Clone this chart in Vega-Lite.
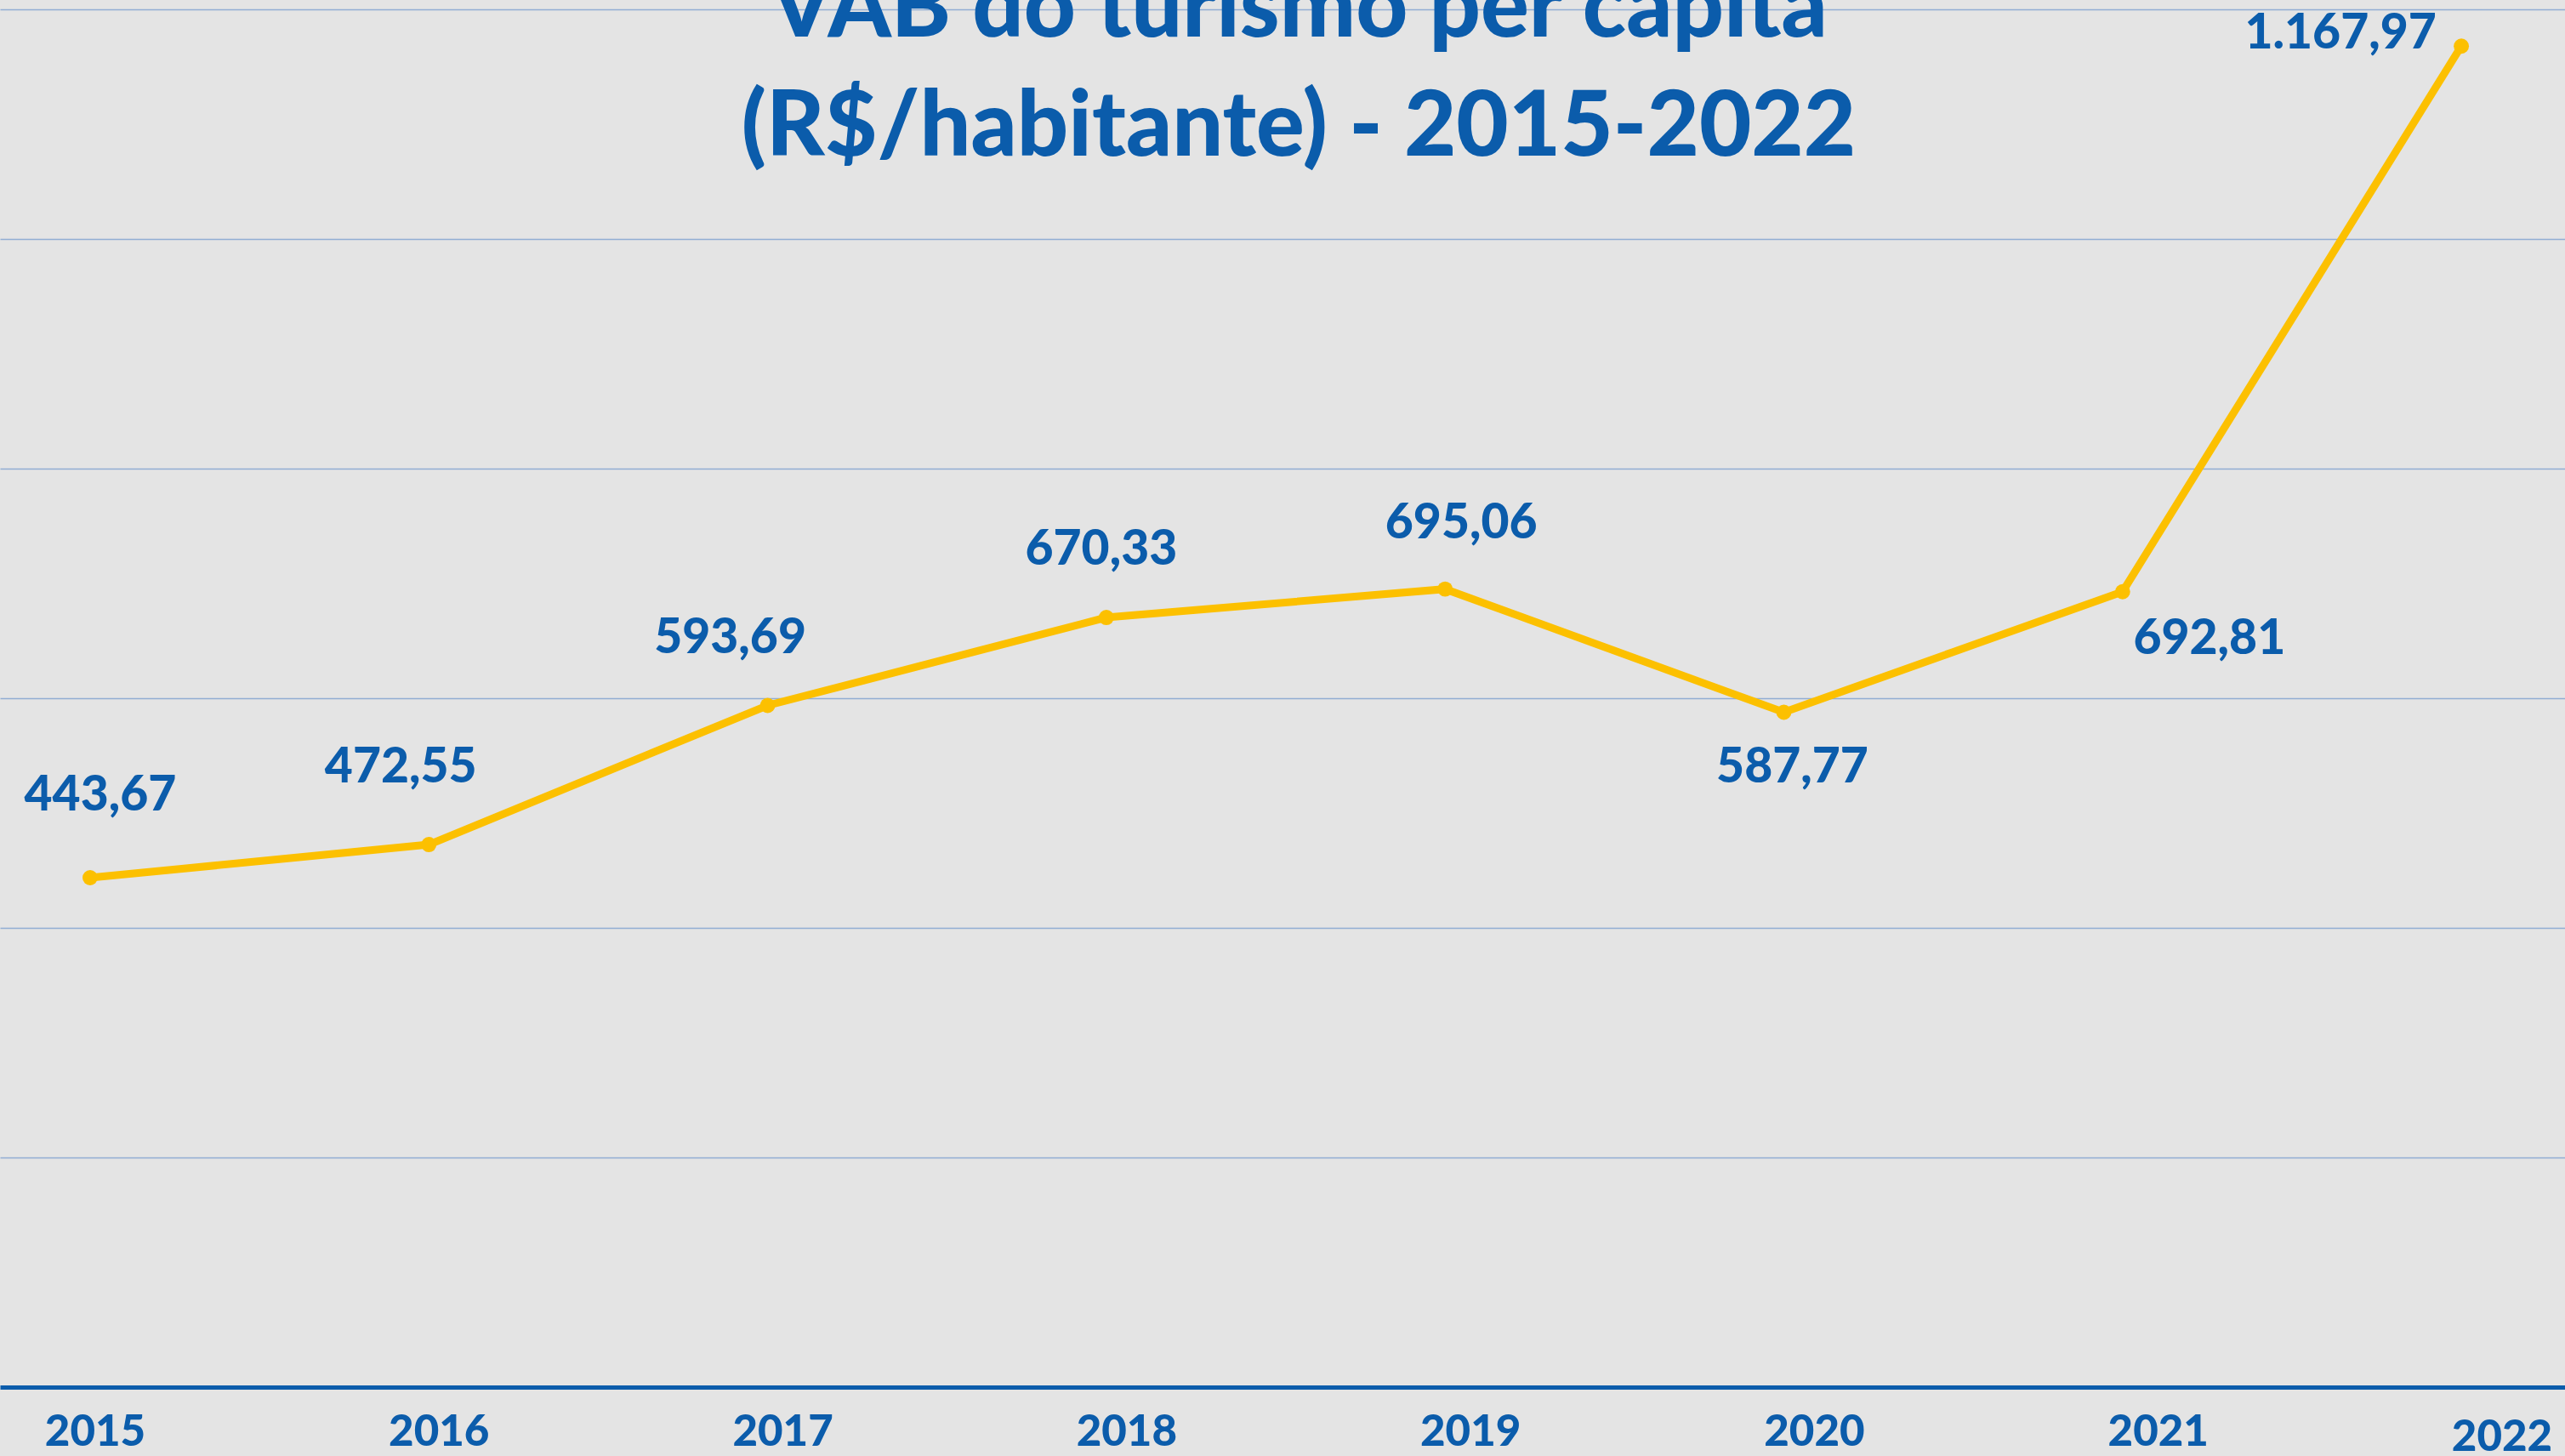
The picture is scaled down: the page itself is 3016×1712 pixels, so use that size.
{
  "$schema": "https://vega.github.io/schema/vega-lite/v6.json",
  "width": 3016,
  "height": 1620,
  "autosize": {"type": "none"},
  "padding": {"left": 0, "top": 11, "right": 0, "bottom": 81},
  "background": "#e4e4e4",
  "config": {
    "view": {"stroke": null},
    "locale": {"number": {"decimal": ",", "thousands": ".", "grouping": [3], "currency": ["R$", ""]}}
  },
  "title": {
    "text": ["VAB do turismo per capita", "(R$/habitante) - 2015-2022"],
    "anchor": "middle",
    "frame": "group",
    "orient": "top",
    "offset": -278,
    "dx": 19,
    "baseline": "alphabetic",
    "font": "Lato",
    "fontSize": 106,
    "fontWeight": 900,
    "color": "#0b5cab",
    "lineHeight": 140
  },
  "data": {
    "values": [
      {"year": 2015, "value": 443.67},
      {"year": 2016, "value": 472.55},
      {"year": 2017, "value": 593.69},
      {"year": 2018, "value": 670.33},
      {"year": 2019, "value": 695.06},
      {"year": 2020, "value": 587.77},
      {"year": 2021, "value": 692.81},
      {"year": 2022, "value": 1167.97}
    ]
  },
  "layer": [
    {
      "encoding": {
        "x": {
          "field": "year",
          "type": "quantitative",
          "scale": {"domain": [2014.734, 2022.306], "nice": false, "zero": false},
          "axis": {"orient": "bottom", "labels": false, "ticks": false, "tickSize": 0, "grid": false, "domain": true, "domainColor": "#0b5cab", "domainWidth": 5, "title": null}
        },
        "y": {
          "field": "value",
          "type": "quantitative",
          "scale": {"domain": [0, 1200], "nice": false, "zero": true},
          "axis": {"values": [200, 400, 600, 800, 1000, 1200], "grid": true, "gridColor": "#91add3", "gridWidth": 1.5, "labels": false, "ticks": false, "tickSize": 0, "domain": false, "title": null}
        }
      },
      "layer": [
        {"mark": {"type": "line", "color": "#fcc000", "strokeWidth": 9}},
        {"mark": {"type": "circle", "color": "#fcc000", "size": 320, "opacity": 1}},
        {"transform": [{"filter": "datum.year == 2015"}], "mark": {"type": "text", "font": "Lato", "fontWeight": 900, "fontSize": 57, "color": "#0b5cab", "align": "center", "baseline": "middle", "dx": 12, "dy": -96}, "encoding": {"text": {"field": "value", "type": "quantitative", "format": ",.2f"}}},
        {"transform": [{"filter": "datum.year == 2016"}], "mark": {"type": "text", "font": "Lato", "fontWeight": 900, "fontSize": 57, "color": "#0b5cab", "align": "center", "baseline": "middle", "dx": -33, "dy": -90}, "encoding": {"text": {"field": "value", "type": "quantitative", "format": ",.2f"}}},
        {"transform": [{"filter": "datum.year == 2017"}], "mark": {"type": "text", "font": "Lato", "fontWeight": 900, "fontSize": 57, "color": "#0b5cab", "align": "center", "baseline": "middle", "dx": -44, "dy": -79}, "encoding": {"text": {"field": "value", "type": "quantitative", "format": ",.2f"}}},
        {"transform": [{"filter": "datum.year == 2018"}], "mark": {"type": "text", "font": "Lato", "fontWeight": 900, "fontSize": 57, "color": "#0b5cab", "align": "center", "baseline": "middle", "dx": -6, "dy": -79}, "encoding": {"text": {"field": "value", "type": "quantitative", "format": ",.2f"}}},
        {"transform": [{"filter": "datum.year == 2019"}], "mark": {"type": "text", "font": "Lato", "fontWeight": 900, "fontSize": 57, "color": "#0b5cab", "align": "center", "baseline": "middle", "dx": 19, "dy": -77}, "encoding": {"text": {"field": "value", "type": "quantitative", "format": ",.2f"}}},
        {"transform": [{"filter": "datum.year == 2020"}], "mark": {"type": "text", "font": "Lato", "fontWeight": 900, "fontSize": 57, "color": "#0b5cab", "align": "center", "baseline": "middle", "dx": 10, "dy": 65}, "encoding": {"text": {"field": "value", "type": "quantitative", "format": ",.2f"}}},
        {"transform": [{"filter": "datum.year == 2021"}], "mark": {"type": "text", "font": "Lato", "fontWeight": 900, "fontSize": 57, "color": "#0b5cab", "align": "center", "baseline": "middle", "dx": 102, "dy": 56}, "encoding": {"text": {"field": "value", "type": "quantitative", "format": ",.2f"}}},
        {"transform": [{"filter": "datum.year == 2022"}], "mark": {"type": "text", "font": "Lato", "fontWeight": 900, "fontSize": 57, "color": "#0b5cab", "align": "center", "baseline": "middle", "dx": -142, "dy": -14}, "encoding": {"text": {"field": "value", "type": "quantitative", "format": ",.2f"}}}
      ]
    },
    {
      "encoding": {
        "x": {
          "field": "year",
          "type": "quantitative",
          "scale": {"domain": [2014.723, 2022.183], "nice": false, "zero": false},
          "axis": null
        },
        "y": {
          "datum": 0,
          "type": "quantitative",
          "scale": {"domain": [0, 1200], "nice": false, "zero": true},
          "axis": {"values": [200, 400, 600, 800, 1000, 1200], "grid": true, "gridColor": "#91add3", "gridWidth": 1.5, "labels": false, "ticks": false, "tickSize": 0, "domain": false, "title": null}
        },
        "text": {"field": "year", "type": "quantitative", "format": "d"}
      },
      "layer": [
        {"transform": [{"filter": "datum.year != 2022"}], "mark": {"type": "text", "font": "Lato", "fontWeight": 900, "fontSize": 51, "color": "#0b5cab", "align": "center", "baseline": "middle", "dy": 54}},
        {"transform": [{"filter": "datum.year == 2022"}], "mark": {"type": "text", "font": "Lato", "fontWeight": 900, "fontSize": 51, "color": "#0b5cab", "align": "center", "baseline": "middle", "dy": 60}}
      ]
    }
  ],
  "resolve": {"scale": {"x": "independent"}}
}
